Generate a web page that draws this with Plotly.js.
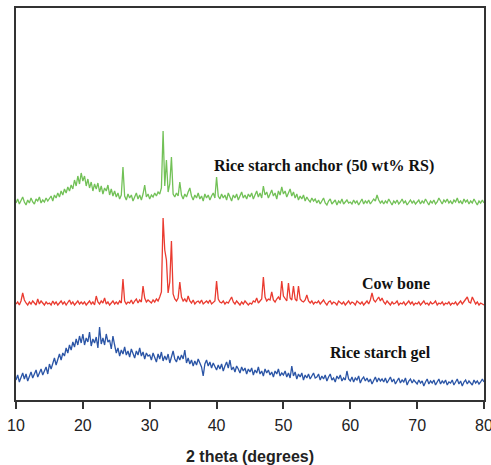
<!DOCTYPE html>
<html>
<head>
<meta charset="utf-8">
<script src="https://cdn.plot.ly/plotly-3.0.1.min.js"></script>
<style>html,body{margin:0;padding:0;background:#fff;overflow:hidden;}#chart{width:491px;height:465px;}</style>
</head>
<body>
<div id="chart"></div>
<script>
// 2-theta grid: 10.00 to 80.00 degrees, 0.25 degree step
const startAngle = 10;
const stepAngle = 0.25;

// Rice starch gel (offset intensity, a.u.)
const riceStarchGel = [
  20, 25, 18, 23, 27, 21, 26, 19, 24, 28, 22, 26, 30, 23, 27, 31, 25, 29, 33, 26,
  36, 31, 38, 42, 35, 41, 46, 40, 47, 44, 52, 47, 55, 50, 58, 53, 61, 55, 64, 57,
  66, 55, 62, 58, 68, 54, 61, 57, 63, 52, 73, 56, 62, 55, 66, 58, 60, 51, 64, 55,
  47, 52, 44, 50, 46, 53, 45, 49, 43, 51, 47, 42, 49, 45, 52, 44, 48, 41, 47, 44,
  45, 40, 47, 42, 38, 46, 41, 48, 39, 44, 40, 46, 37, 43, 49, 41, 38, 44, 40, 45,
  41, 50, 37, 42, 36, 40, 34, 39, 35, 41, 37, 33, 24, 36, 40, 34, 38, 32, 37, 33,
  30, 35, 31, 36, 29, 34, 38, 32, 40, 30, 33, 28, 34, 31, 27, 33, 29, 32, 26, 31,
  28, 32, 25, 30, 27, 33, 26, 29, 24, 31, 27, 30, 25, 28, 23, 29, 26, 31, 24, 27,
  25, 29, 23, 27, 22, 34, 24, 28, 21, 26, 23, 27, 20, 25, 22, 26, 21, 24, 27, 22,
  23, 26, 20, 24, 21, 25, 19, 23, 26, 20, 22, 18, 24, 21, 25, 19, 22, 20, 29, 21,
  19, 23, 18, 22, 20, 24, 17, 21, 23, 19, 22, 18, 21, 16, 20, 23, 18, 22, 19, 21,
  18, 22, 17, 20, 23, 18, 21, 16, 19, 22, 17, 20, 18, 22, 15, 19, 21, 17, 20, 18,
  16, 20, 17, 19, 14, 18, 21, 16, 19, 17, 20, 15, 18, 21, 16, 19, 17, 20, 15, 18,
  17, 20, 15, 18, 21, 16, 19, 14, 18, 20, 16, 19, 17, 15, 20, 17, 19, 16, 18, 21,
  18
];

// Cow bone (offset intensity, a.u.)
const cowBone = [
  96, 98, 95, 99, 107, 100, 97, 95, 98, 96, 99, 97, 95, 101, 96, 99, 97, 95, 98, 96,
  97, 95, 99, 96, 98, 95, 97, 99, 96, 98, 95, 97, 100, 96, 98, 95, 97, 99, 96, 98,
  96, 98, 95, 97, 99, 96, 98, 95, 104, 98, 96, 99, 97, 102, 96, 98, 95, 97, 99, 96,
  98, 96, 99, 97, 121, 99, 96, 98, 97, 100, 96, 99, 101, 97, 100, 98, 114, 102, 98, 100,
  98, 97, 100, 98, 101, 99, 103, 108, 182, 150, 140, 107, 118, 159, 106, 101, 99, 102, 118, 103,
  99, 101, 98, 104, 99, 97, 100, 96, 98, 99, 97, 100, 96, 98, 99, 97, 100, 96, 98, 99,
  119, 101, 98, 97, 99, 96, 98, 97, 100, 103, 98, 96, 99, 97, 95, 98, 96, 99, 97, 95,
  97, 96, 99, 98, 102, 97, 99, 101, 123, 103, 99, 101, 100, 108, 100, 98, 101, 103, 100, 119,
  104, 101, 99, 117, 102, 100, 114, 101, 99, 114, 101, 99, 98, 100, 105, 99, 97, 99, 96, 98,
  97, 99, 96, 98, 100, 97, 95, 98, 99, 96, 98, 97, 95, 99, 97, 96, 98, 95, 97, 99,
  96, 98, 97, 95, 99, 97, 96, 98, 95, 97, 99, 96, 100, 107, 100, 98, 101, 103, 99, 102,
  98, 96, 99, 97, 95, 98, 96, 97, 99, 95, 97, 96, 98, 95, 97, 99, 96, 98, 95, 97,
  96, 98, 95, 97, 99, 96, 97, 95, 98, 96, 97, 99, 95, 97, 96, 98, 95, 97, 96, 98,
  95, 97, 96, 98, 95, 97, 99, 96, 98, 100, 103, 98, 97, 103, 99, 96, 98, 95, 97, 96,
  95
];

// Rice starch anchor (50 wt% RS) (offset intensity, a.u.)
const riceStarchAnchor = [
  197, 201, 196, 200, 203, 198, 195, 200, 197, 202, 198, 196, 201, 199, 203, 197, 200, 198, 202, 199,
  201, 204, 199, 205, 202, 207, 203, 209, 205, 211, 207, 213, 209, 215, 211, 220, 214, 224, 216, 227,
  219, 224, 214, 221, 212, 218, 209, 216, 211, 217, 208, 214, 206, 212, 209, 215, 205, 211, 204, 209,
  203, 207, 201, 205, 233, 204, 200, 206, 202, 205, 199, 204, 207, 201, 205, 200, 206, 215, 203, 206,
  201, 205, 203, 207, 204, 208, 206, 212, 269, 214, 240, 208, 216, 243, 206, 203, 207, 204, 218, 205,
  201, 206, 203, 208, 212, 204, 200, 205, 202, 207, 201, 204, 199, 206, 202, 205, 200, 204, 207, 202,
  223, 204, 201, 206, 202, 205, 200, 207, 203, 199, 205, 202, 206, 200, 204, 208, 202, 205, 201, 206,
  203, 207, 201, 206, 209, 203, 207, 202, 214, 205, 208, 202, 206, 210, 204, 207, 201, 209, 205, 213,
  206, 209, 203, 207, 211, 204, 208, 202, 206, 200, 204, 201, 205, 199, 203, 200, 198, 202, 199, 201,
  197, 200, 196, 199, 202, 197, 195, 199, 201, 196, 198, 200, 195, 199, 197, 201, 196, 198, 200, 197,
  198, 196, 200, 197, 199, 195, 198, 201, 196, 199, 197, 200, 196, 198, 201, 199, 205, 200, 197, 199,
  196, 199, 197, 201, 198, 195, 199, 197, 200, 196, 198, 201, 197, 199, 195, 198, 200, 197, 199, 196,
  198, 200, 196, 199, 197, 201, 198, 195, 199, 197, 200, 196, 198, 202, 199, 196, 200, 198, 201, 197,
  199, 196, 200, 198, 202, 197, 199, 196, 201, 198, 200, 196, 199, 197, 201, 198, 195, 199, 197, 200,
  197
];

const seriesNames = ["Rice starch gel", "Cow bone", "Rice starch anchor (50 wt% RS)"];
const labelX = [56.6, 61.5, 39.3];
const labelY = [47, 117, 234];
const xTicks = [10, 20, 30, 40, 50, 60, 70, 80];

const angles = riceStarchGel.map((_, i) => startAngle + i * stepAngle);

const colors = ["#2b55a6", "#ea3b30", "#72c157"];
const seriesValues = [riceStarchGel, cowBone, riceStarchAnchor];

const traces = seriesValues.map((vals, k) => ({
  type: "scatter",
  mode: "lines",
  x: angles,
  y: vals,
  name: seriesNames[k],
  line: { color: colors[k], width: 1.3 },
  hoverinfo: "skip"
}));

const annotations = seriesNames.map((name, k) => ({
  x: labelX[k], y: labelY[k], xref: "x", yref: "y",
  text: "<b>" + name + "</b>",
  showarrow: false, xanchor: "left", yanchor: "middle",
  font: { family: "Liberation Serif, Times New Roman, serif", size: 16, color: "#111" }
}));

const layout = {
  width: 491, height: 465,
  margin: { l: 16, r: 7, t: 8, b: 65 },
  paper_bgcolor: "#fff", plot_bgcolor: "#fff",
  showlegend: false,
  xaxis: {
    range: [10, 80],
    tickvals: xTicks,
    ticks: "outside", ticklen: 7, tickwidth: 2, tickcolor: "#333",
    ticklabelstandoff: 3,
    ticklabeloverflow: "allow",
    showline: true, mirror: true, linecolor: "#333", linewidth: 2,
    showgrid: false, zeroline: false,
    tickfont: { family: "Liberation Sans, Arial, sans-serif", size: 16, color: "#222" },
    title: { text: "<b>2 theta (degrees)</b>", standoff: 20,
             font: { family: "Liberation Sans, Arial, sans-serif", size: 16, color: "#222" } }
  },
  yaxis: {
    range: [0, 392],
    showticklabels: false, ticks: "",
    showline: true, mirror: true, linecolor: "#333", linewidth: 2,
    showgrid: false, zeroline: false
  },
  annotations: annotations
};

Plotly.newPlot("chart", traces, layout, { displayModeBar: false, staticPlot: true });
</script>
</body>
</html>
